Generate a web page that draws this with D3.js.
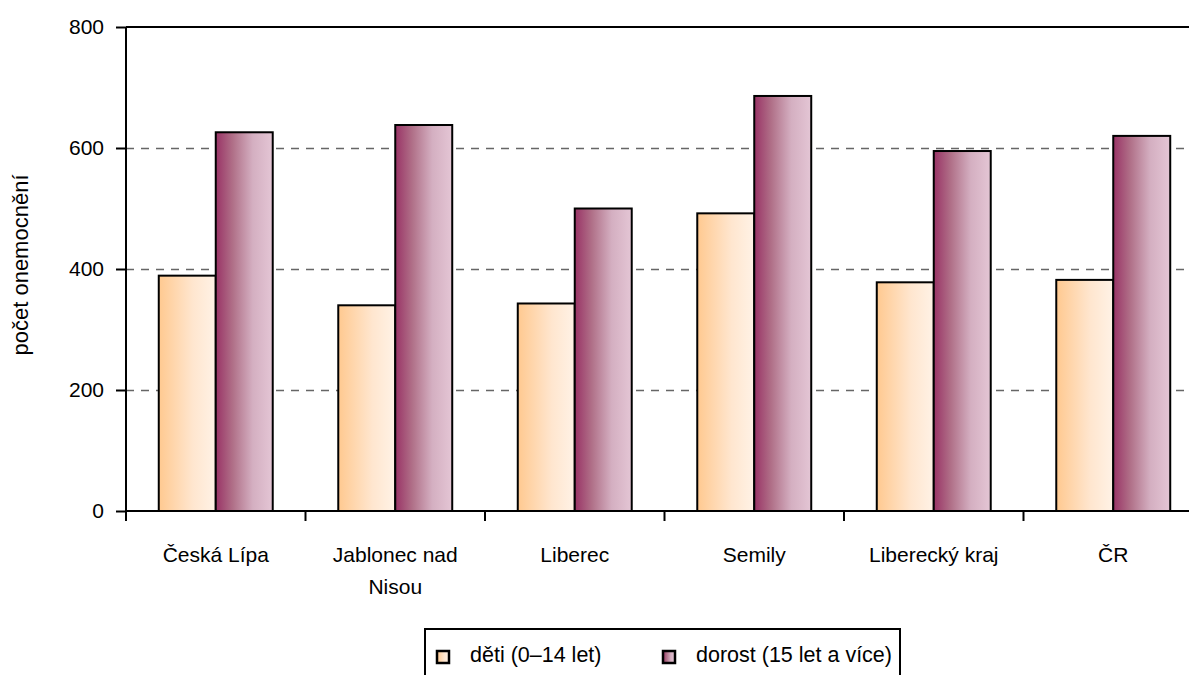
<!DOCTYPE html>
<html><head><meta charset="utf-8">
<script src="https://cdn.jsdelivr.net/npm/d3@7"></script>
<style>body{margin:0;background:#fff}svg{display:block;font-family:"Liberation Sans",Arial,sans-serif}</style>
</head><body><svg id="c" width="1189" height="675"></svg>
<script>
const categories = [["Česká Lípa"], ["Jablonec nad", "Nisou"], ["Liberec"], ["Semily"], ["Liberecký kraj"], ["ČR"]];
const seriesNames = ["děti (0–14 let)", "dorost (15 let a více)"];
const deti = [389, 340, 343, 492, 378, 382];
const dorost = [626, 638, 500, 686, 595, 620];
const yTicks = [0, 200, 400, 600, 800];
const yLabel = "počet onemocnění";

(function () {
const svg = d3.select("#c");
const FS = 21;
const pL = 126, pR = 1203, pT = 27, pB = 511;
const x = d3.scaleBand().domain(d3.range(categories.length)).range([pL, pR]).paddingInner(0).paddingOuter(0);
const y = d3.scaleLinear().domain([0, 800]).range([pB, pT]);
const inner = d3.scaleBand().domain([0, 1]).range([0, x.bandwidth()]).paddingInner(0).paddingOuter(0.575);

const defs = svg.append("defs");
const g1 = defs.append("linearGradient").attr("id", "gO");
g1.append("stop").attr("offset", "0").attr("stop-color", "#FFC990");
g1.append("stop").attr("offset", "0.6").attr("stop-color", "#FFE6CF");
g1.append("stop").attr("offset", "1").attr("stop-color", "#FFF2E6");
const g2 = defs.append("linearGradient").attr("id", "gP");
g2.append("stop").attr("offset", "0").attr("stop-color", "#993366");
g2.append("stop").attr("offset", "0.3").attr("stop-color", "#B07088");
g2.append("stop").attr("offset", "0.65").attr("stop-color", "#D4AFC1");
g2.append("stop").attr("offset", "1").attr("stop-color", "#E4C6D5");
const fills = ["url(#gO)", "url(#gP)"];

svg.append("g").selectAll("line").data(yTicks.filter(t => t > 0 && t < 800)).join("line")
  .attr("x1", pL).attr("x2", pR).attr("y1", d => y(d) + 0.5).attr("y2", d => y(d) + 0.5)
  .attr("stroke", "#666").attr("stroke-width", 1.3).attr("stroke-dasharray", "8,7");
svg.append("line").attr("x1", pL).attr("x2", pR).attr("y1", y(800)).attr("y2", y(800))
  .attr("stroke", "#000").attr("stroke-width", 2);

const series = [deti, dorost];
series.forEach((vals, si) => {
  svg.append("g").selectAll("rect").data(vals).join("rect")
    .attr("x", (d, i) => x(i) + inner(si))
    .attr("width", inner.bandwidth())
    .attr("y", d => y(d))
    .attr("height", d => pB - y(d))
    .attr("fill", fills[si]).attr("stroke", "#000").attr("stroke-width", 2);
});

const ya = svg.append("g").attr("transform", `translate(${pL},0)`)
  .call(d3.axisLeft(y).tickValues(yTicks).tickSize(10).tickPadding(12));
ya.select(".domain").attr("stroke-width", 2).attr("d", `M0,${pT}V${pB}`);
ya.selectAll(".tick line").attr("stroke-width", 2);
ya.selectAll("text").attr("font-size", FS).attr("fill", "#000").attr("font-family", "Liberation Sans, Arial, sans-serif");

const xa = svg.append("g").attr("transform", `translate(0,${pB})`);
xa.append("line").attr("x1", pL).attr("x2", pR).attr("stroke", "#000").attr("stroke-width", 2);
xa.selectAll("line.t").data(d3.range(categories.length + 1)).join("line").attr("class", "t")
  .attr("x1", i => pL + i * x.step()).attr("x2", i => pL + i * x.step())
  .attr("y1", 0).attr("y2", 10).attr("stroke", "#000").attr("stroke-width", 2);
const lab = xa.selectAll("text").data(categories).join("text")
  .attr("text-anchor", "middle").attr("font-size", FS).attr("fill", "#000");
lab.each(function(lines, i) {
  d3.select(this).selectAll("tspan").data(lines).join("tspan")
    .attr("x", x(i) + x.bandwidth() / 2).attr("y", (d, j) => 51 + j * 32).text(d => d);
});

svg.append("text").attr("transform", `translate(28,265) rotate(-90)`)
  .attr("text-anchor", "middle").attr("font-size", 22).text(yLabel);

const lg = svg.append("g");
lg.append("rect").attr("x", 425).attr("y", 629).attr("width", 475).attr("height", 60)
  .attr("fill", "#fff").attr("stroke", "#000").attr("stroke-width", 2);
const lx = [437, 663];
seriesNames.forEach((n, i) => {
  lg.append("rect").attr("x", lx[i]).attr("y", 651).attr("width", 12).attr("height", 12)
    .attr("fill", fills[i]).attr("stroke", "#000").attr("stroke-width", 2.5);
  lg.append("text").attr("x", lx[i] + 33).attr("y", 662).attr("font-size", 21.5).text(n);
});
})();
</script></body></html>
